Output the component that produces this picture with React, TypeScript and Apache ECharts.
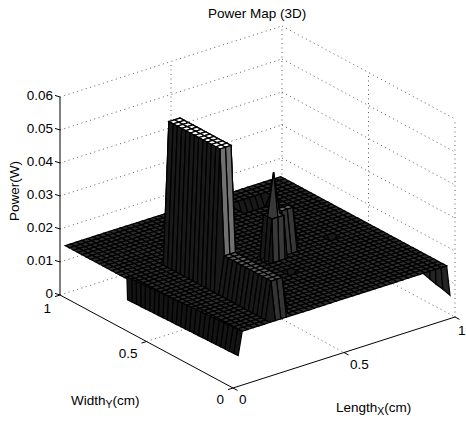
import React, { useEffect, useRef } from "react";
import * as echarts from "echarts";

const titleText = "Power Map (3D)";
const zTicks = [0, 0.01, 0.02, 0.03, 0.04, 0.05, 0.06];
const zTickLabels = ["0", "0.01", "0.02", "0.03", "0.04", "0.05", "0.06"];
const xTicks = [0, 0.5, 1];
const xTickLabels = ["0", "0.5", "1"];
const yTicks = [0, 0.5, 1];
const yTickLabels = ["0", "0.5", "1"];

const gridX = [0.014, 0.039, 0.064, 0.089, 0.114, 0.139, 0.163, 0.188, 0.213, 0.238, 0.263, 0.288, 0.313, 0.338, 0.363, 0.388, 0.412, 0.437, 0.462, 0.487, 0.512, 0.537, 0.562, 0.587, 0.612, 0.637, 0.661, 0.686, 0.711, 0.736, 0.761, 0.786, 0.811, 0.836, 0.861, 0.886, 0.91, 0.935, 0.96, 0.985];
const gridY = [0.029, 0.054, 0.078, 0.103, 0.127, 0.152, 0.177, 0.201, 0.226, 0.25, 0.275, 0.3, 0.324, 0.349, 0.373, 0.398, 0.423, 0.447, 0.472, 0.496, 0.521, 0.546, 0.57, 0.595, 0.619, 0.644, 0.669, 0.693, 0.718, 0.742, 0.767, 0.792, 0.816, 0.841, 0.865, 0.89, 0.915, 0.939, 0.964, 0.988];
const basePower = 0.015;
// [first column, last column, first row, last row, power]
const powerRegions = [
  [8, 10, 1, 12, 0.0263],
  [8, 10, 13, 25, 0.058],
  [23, 25, 18, 19, 0.0277],
  [28, 33, 33, 35, 0.0115],
  [20, 20, 12, 12, 0.012],
  [32, 32, 18, 18, 0.012],
];

const towerX = [0.497, 0.512, 0.5385, 0.565, 0.58];
const towerY = [0.425, 0.432, 0.4565, 0.481, 0.49];
const towerZ = [
  [0.015, 0.015, 0.015, 0.015, 0.015],
  [0.015, 0.028, 0.028, 0.028, 0.015],
  [0.015, 0.028, 0.041, 0.028, 0.015],
  [0.015, 0.028, 0.028, 0.028, 0.015],
  [0.015, 0.015, 0.015, 0.015, 0.015],
];

const leftEdgeTopX = [0.064, 0.062, 0.061, 0.059, 0.058, 0.056, 0.054, 0.053, 0.051, 0.05, 0.048, 0.046, 0.045, 0.043, 0.042, 0.04, 0.038, 0.037, 0.035, 0.034, 0.032, 0.03, 0.029, 0.027, 0.026, 0.024];
const leftEdgeBottomX = [0.046, 0.045, 0.044, 0.044, 0.043, 0.042, 0.041, 0.041, 0.04, 0.039, 0.038, 0.038, 0.037, 0.036, 0.035, 0.035, 0.034, 0.033, 0.032, 0.032, 0.031, 0.03, 0.029, 0.029, 0.028, 0.027];
const leftEdgeBottomZ = 0.008;
const rightEdgeTopX = [0.886, 0.91, 0.935, 0.96, 0.985];
const rightEdgeBottomX = [0.878, 0.91, 0.937, 0.968, 1.0];
const rightEdgeBottomZ = [0.0151, 0.0126, 0.0105, 0.0083, 0.0058];

const FONT = "'Liberation Sans', Arial, Helvetica, sans-serif";
const FS = 13.5;

type P3 = [number, number, number];
const toU = (p: P3) => 222 * p[0] - 173 * p[1];
const toV = (p: P3) => 71 * p[0] + 93 * p[1] + 3300 * p[2];

function heightMap(): number[][] {
  const m = gridX.map(() => gridY.map(() => basePower));
  for (const [i0, i1, j0, j1, z] of powerRegions)
    for (let i = i0; i <= i1; i++) for (let j = j0; j <= j1; j++) m[i][j] = z;
  return m;
}

const shade = (z: number, sloped: boolean) => {
  const t = Math.min(1, z / 0.058);
  const raw = 255 * Math.pow(t, 1.27);
  const g = Math.round(sloped ? Math.min(112, raw * 0.55) : raw);
  return `rgb(${g},${g},${g})`;
};

type Quad = { pts: P3[]; fill: string; key: number };

function meshQuads(xs: number[], ys: number[], zs: number[][]): Quad[] {
  const out: Quad[] = [];
  for (let i = 0; i < xs.length - 1; i++)
    for (let j = 0; j < ys.length - 1; j++) {
      const a = zs[i][j], b = zs[i + 1][j], c = zs[i + 1][j + 1], d = zs[i][j + 1];
      const sloped = Math.max(a, b, c, d) - Math.min(a, b, c, d) > 1e-6;
      out.push({
        pts: [[xs[i], ys[j], a], [xs[i + 1], ys[j], b], [xs[i + 1], ys[j + 1], c], [xs[i], ys[j + 1], d]],
        fill: shade(d, sloped),
        key: xs[i] + xs[i + 1] + ys[j] + ys[j + 1],
      });
    }
  return out;
}

function edgeQuads(): Quad[] {
  const out: Quad[] = [];
  for (let j = 0; j < leftEdgeTopX.length - 1; j++)
    out.push({
      pts: [
        [leftEdgeTopX[j], gridY[j], basePower],
        [leftEdgeTopX[j + 1], gridY[j + 1], basePower],
        [leftEdgeBottomX[j + 1], gridY[j + 1], leftEdgeBottomZ],
        [leftEdgeBottomX[j], gridY[j], leftEdgeBottomZ],
      ],
      fill: "#141414",
      key: -1,
    });
  for (let i = 0; i < rightEdgeTopX.length - 1; i++)
    out.push({
      pts: [
        [rightEdgeTopX[i], gridY[0], basePower],
        [rightEdgeTopX[i + 1], gridY[0], basePower],
        [rightEdgeBottomX[i + 1], gridY[0], rightEdgeBottomZ[i + 1]],
        [rightEdgeBottomX[i], gridY[0], rightEdgeBottomZ[i]],
      ],
      fill: "#242424",
      key: -1,
    });
  return out;
}

const Z_TOP = zTicks[zTicks.length - 1];
type Seg = { a: P3; b: P3; solid: boolean };
function frameSegments(): Seg[] {
  const s: Seg[] = [];
  for (const z of zTicks) {
    s.push({ a: [0, 1, z], b: [1, 1, z], solid: false });
    s.push({ a: [1, 1, z], b: [1, 0, z], solid: false });
  }
  s.push({ a: [0.5, 1, 0], b: [0.5, 1, Z_TOP], solid: false });
  s.push({ a: [1, 1, 0], b: [1, 1, Z_TOP], solid: false });
  s.push({ a: [1, 0.5, 0], b: [1, 0.5, Z_TOP], solid: false });
  s.push({ a: [1, 0, 0], b: [1, 0, Z_TOP], solid: false });
  s.push({ a: [0.5, 1, 0], b: [0.5, 0, 0], solid: false });
  s.push({ a: [0, 0.5, 0], b: [1, 0.5, 0], solid: false });
  return s;
}
function axisSegments(): Seg[] {
  return [
    { a: [0, 1, 0], b: [0, 1, Z_TOP], solid: true },
    { a: [0, 1, 0], b: [0, 0, 0], solid: true },
    { a: [0, 0, 0], b: [1, 0, 0], solid: true },
  ];
}

export default function App() {
  const ref = useRef<HTMLDivElement>(null);
  useEffect(() => {
    document.body.style.margin = "0";
    const chart = echarts.init(ref.current!, undefined, { renderer: "svg" });

    const quads = [
      ...meshQuads(gridX, gridY, heightMap()),
      ...meshQuads(towerX, towerY, towerZ),
    ].sort((p, q) => q.key - p.key).concat(edgeQuads());
    const frame = frameSegments();
    const axes = axisSegments();

    const segSeries = (name: string, segs: Seg[], z: number) => ({
      type: "custom",
      name,
      z,
      silent: true,
      clip: false,
      progressive: 0,
      coordinateSystem: "cartesian2d",
      data: segs.map((g) => [toU(g.a), toV(g.a)]),
      renderItem: (p: any, api: any) => {
        const g = segs[p.dataIndex];
        const A = api.coord([toU(g.a), toV(g.a)]);
        const B = api.coord([toU(g.b), toV(g.b)]);
        return {
          type: "line",
          shape: { x1: A[0], y1: A[1], x2: B[0], y2: B[1] },
          style: g.solid
            ? { stroke: "#000", lineWidth: 1, fill: "none" }
            : { stroke: "#333", lineWidth: 0.8, lineDash: [1, 3.5], fill: "none" },
        };
      },
    });

    type Tick = { at: P3; dx: number; dy: number };
    const ticks: Tick[] = [
      ...zTicks.map((z) => ({ at: [0, 1, z] as P3, dx: -5, dy: -1.6 })),
      ...yTicks.map((y) => ({ at: [0, y, 0] as P3, dx: -5, dy: 1.6 })),
      ...xTicks.map((x) => ({ at: [x, 0, 0] as P3, dx: 4.5, dy: 2.4 })),
    ];

    type Lab = { at: P3; text: string; dx: number; dy: number; align: string };
    const labels: Lab[] = [
      ...zTicks.map((z, k) => ({ at: [0, 1, z] as P3, text: zTickLabels[k], dx: -7, dy: -2, align: "right" })),
      ...yTicks.map((y, k) => ({ at: [0, y, 0] as P3, text: yTickLabels[k], dx: -9, dy: y === 1 ? 13.5 : 11.5, align: "right" })),
      ...xTicks.map((x, k) => ({ at: [x, 0, 0] as P3, text: xTickLabels[k], dx: x === 1 ? 3 : 6, dy: x === 1 ? 13 : 11.5, align: "left" })),
    ];

    chart.setOption({
      animation: false,
      backgroundColor: "#fff",
      title: {
        text: titleText,
        left: 208,
        top: 6,
        padding: 0,
        textStyle: { fontFamily: FONT, fontSize: FS, fontWeight: "normal", color: "#000" },
      },
      grid: { left: 0, right: 0, top: 0, bottom: 0 },
      xAxis: { type: "value", min: -233, max: 233, show: false },
      yAxis: { type: "value", min: -33, max: 388, show: false },
      tooltip: { show: false },
      graphic: [
        {
          type: "text",
          x: 14,
          y: 191,
          rotation: Math.PI / 2,
          style: { text: "Power(W)", font: `${FS}px ${FONT}`, fill: "#000", align: "center", verticalAlign: "middle" },
        },
        {
          type: "text",
          x: 71,
          y: 400,
          style: {
            text: "Width{s|Y}(cm)",
            font: `${FS}px ${FONT}`,
            fill: "#000",
            align: "left",
            verticalAlign: "middle",
            rich: { s: { fontSize: 10.5, fontFamily: FONT, fill: "#000", padding: [7, 0, 0, 0] } },
          },
        },
        {
          type: "text",
          x: 336,
          y: 407,
          style: {
            text: "Length{s|X}(cm)",
            font: `${FS}px ${FONT}`,
            fill: "#000",
            align: "left",
            verticalAlign: "middle",
            rich: { s: { fontSize: 10.5, fontFamily: FONT, fill: "#000", padding: [7, 0, 0, 0] } },
          },
        },
      ],
      series: [
        segSeries("frame", frame, 1),
        {
          type: "custom",
          name: "power",
          z: 2,
          silent: true,
          clip: false,
          progressive: 0,
          coordinateSystem: "cartesian2d",
          data: quads.map((q) => [toU(q.pts[0]), toV(q.pts[0])]),
          renderItem: (p: any, api: any) => {
            const q = quads[p.dataIndex];
            return {
              type: "polygon",
              shape: { points: q.pts.map((v) => api.coord([toU(v), toV(v)])) },
              style: { fill: q.fill, stroke: "#000", lineWidth: 1.25 },
            };
          },
        },
        segSeries("axes", axes, 3),
        {
          type: "custom",
          name: "ticks",
          z: 3,
          silent: true,
          clip: false,
          progressive: 0,
          coordinateSystem: "cartesian2d",
          data: ticks.map((t) => [toU(t.at), toV(t.at)]),
          renderItem: (p: any, api: any) => {
            const t = ticks[p.dataIndex];
            const A = api.coord([toU(t.at), toV(t.at)]);
            return {
              type: "line",
              shape: { x1: A[0], y1: A[1], x2: A[0] + t.dx, y2: A[1] + t.dy },
              style: { stroke: "#000", lineWidth: 1, fill: "none" },
            };
          },
        },
        {
          type: "custom",
          name: "labels",
          z: 4,
          silent: true,
          clip: false,
          progressive: 0,
          coordinateSystem: "cartesian2d",
          data: labels.map((l) => [toU(l.at), toV(l.at)]),
          renderItem: (p: any, api: any) => {
            const l = labels[p.dataIndex];
            const A = api.coord([toU(l.at), toV(l.at)]);
            return {
              type: "text",
              style: {
                text: l.text,
                x: A[0] + l.dx,
                y: A[1] + l.dy,
                font: `${FS}px ${FONT}`,
                fill: "#000",
                align: l.align,
                verticalAlign: "middle",
              },
            };
          },
        },
      ],
    });
    return () => chart.dispose();
  }, []);
  return <div ref={ref} style={{ width: 466, height: 421 }} />;
}
